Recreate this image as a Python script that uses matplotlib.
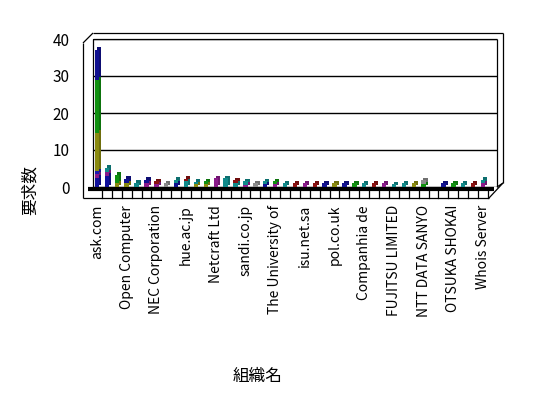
import matplotlib
matplotlib.use("Agg")
import matplotlib.pyplot as plt
import matplotlib.transforms as mtransforms
from matplotlib.colors import to_rgb

plt.rcParams['font.family'] = ['Noto Sans CJK JP', 'DejaVu Sans']

# ---- data -------------------------------------------------------------
n_categories = 40
tick_positions = [0, 3, 6, 9, 12, 15, 18, 21, 24, 27, 30, 33, 36, 39]
tick_labels = ["ask.com", "Open Computer", "NEC Corporation", "hue.ac.jp",
               "Netcraft Ltd", "sandi.co.jp", "The University of", "isu.net.sa",
               "pol.co.uk", "Companhia de", "FUJITSU LIMITED", "NTT DATA SANYO",
               "OTSUKA SHOKAI", "Whois Server"]
y_ticks = [0, 10, 20, 30, 40]

s_navy_a = [2.5, 3.0, 0, 0, 0, 0, 0, 0, 0, 0,
            0, 0, 0, 0, 0, 0, 0, 0, 0, 0,
            0, 0, 0, 0, 0, 0, 0, 0, 0, 0,
            0, 0, 0, 0, 0, 0, 0, 0, 0, 0]
s_purple = [1.0, 1.0, 0, 0, 0, 1.0, 0.8, 0, 0, 0,
            0, 0, 2.3, 0, 0, 0.6, 0, 0, 0.8, 0,
            0, 1.0, 0, 0, 0, 0, 0, 0, 0, 1.0,
            0, 0, 0, 0, 0, 0, 0, 0, 0, 1.0]
s_blue = [0.8, 0, 0, 0, 0, 0, 0, 0, 0, 0,
          0, 0, 0, 0, 0, 0, 0, 0, 0, 0,
          0, 0, 0, 0, 0, 0, 0, 0, 0, 0,
          0, 0, 0, 0, 0, 0, 0, 0, 0, 0]
s_olive = [10.4, 0, 1.0, 1.0, 0, 0, 0, 0, 0, 0,
           0.8, 0.8, 0, 0, 0, 0, 0, 0, 0, 0,
           0, 0, 0, 0, 1.0, 0, 0, 0, 0, 0,
           0, 0, 1.0, 0, 0, 0, 0, 0, 0, 0]
s_green = [14.3, 0, 2.3, 0, 0, 0, 0, 0, 0, 0,
           0, 0.8, 0, 0, 0, 0, 0, 0, 0.8, 0,
           0, 0, 0, 0, 0, 0, 1.0, 0, 0, 0,
           0, 0, 0, 0.8, 0, 0, 1.0, 0, 0, 0]
s_navy_b = [8.1, 0, 0, 1.2, 0, 1.0, 0, 0, 1.0, 0,
            0, 0, 0, 0, 0, 0, 0, 0.8, 0, 0,
            0, 0, 0, 1.0, 0, 1.0, 0, 0, 0, 0,
            0, 0, 0, 0, 0, 1.0, 0, 0, 0, 0]
s_teal = [0, 1.2, 0, 0, 1.2, 0, 0, 0, 1.0, 1.6,
          0.6, 0, 0, 2.3, 1.0, 0.9, 0, 0.8, 0, 1.0,
          0, 0, 0, 0, 0, 0, 0, 1.0, 0, 0,
          0.8, 1.0, 0, 0, 0, 0, 0, 1.0, 0, 1.0]
s_maroon = [0, 0, 0, 0, 0, 0, 0.8, 0, 0, 0.6,
            0, 0, 0, 0, 0.8, 0, 0, 0, 0, 0,
            1.0, 0, 1.0, 0, 0, 0, 0, 0, 1.0, 0,
            0, 0, 0, 0, 0, 0, 0, 0, 1.0, 0]
s_grey = [0, 0, 0, 0, 0, 0, 0, 1.0, 0, 0,
          0, 0, 0, 0, 0, 0, 1.0, 0, 0, 0,
          0, 0, 0, 0, 0, 0, 0, 0, 0, 0,
          0, 0, 0, 1.0, 0, 0, 0, 0, 0, 0]

series = [s_navy_a, s_purple, s_blue, s_olive, s_green,
          s_navy_b, s_teal, s_maroon, s_grey]
colors = ['#10109a', '#8a1a8a', '#1a1ab0', '#8a8a10', '#109010',
          '#10108f', '#108a8a', '#8a1010', '#8c8c8c']

# ---- figure -----------------------------------------------------------
W, H, DPI = 548, 398, 100
fig = plt.figure(figsize=(W / DPI, H / DPI), dpi=DPI, facecolor='white')

frame = fig.add_axes([0, 0, 1, 1], zorder=0)
frame.set_xlim(0, W)
frame.set_ylim(H, 0)
frame.axis('off')


def px_rect(x0, y0, x1, y1):
    return [x0 / W, 1 - y1 / H, (x1 - x0) / W, (y1 - y0) / H]


ax = fig.add_axes(px_rect(93, 39, 497, 187), zorder=1)
ax.patch.set_alpha(0)
ax.set_xlim(-0.40, 40.41)
ax.set_ylim(0, 40)
for s in ax.spines.values():
    s.set_visible(False)

ax.set_yticks(y_ticks)
ax.set_yticklabels([str(v) for v in y_ticks], fontsize=11)
ax.yaxis.grid(True, color='black', lw=1.0)
ax.set_axisbelow(True)
ax.tick_params(axis='y', length=0, pad=17)

ax.set_xticks(tick_positions)
ax.set_xticklabels(tick_labels, rotation=90, fontsize=10, va='top', ha='center')
ax.tick_params(axis='x', length=0, pad=13)

# ---- 3D box -----------------------------------------------------------
lw = 0.9
segs = [
    [(93, 39), (497, 39)], [(497, 39), (497, 187)], [(93, 39), (93, 187)],
    [(93, 33), (503, 33)], [(503, 33), (503, 183)], [(503, 183), (489, 198)],
    [(83, 43), (93, 33)], [(83, 43), (83, 198)], [(83, 198), (489, 198)],
    [(497, 187), (503, 183)],
]
for (xa, ya), (xb, yb) in segs:
    frame.plot([xa, xb], [ya, yb], color='black', lw=lw, solid_capstyle='butt')
# floor
frame.plot([88, 494], [188.5, 188.5], color='black', lw=3.0, solid_capstyle='butt')

# category separators along the front of the floor
blend = mtransforms.blended_transform_factory(ax.transData, frame.transData)
for k in range(n_categories):
    frame.plot([k + 0.5, k + 0.5], [189, 198], color='black', lw=lw,
               transform=blend)

# ---- bars ------------------------------------------------------------
x = list(range(n_categories))
width = 0.45
side = mtransforms.ScaledTranslation(0.02, 0.025, fig.dpi_scale_trans)

bottom = [0.0] * n_categories
for vals, col in zip(series, colors):
    dark = tuple(c * 0.8 for c in to_rgb(col))
    ax.bar(x, vals, width=width, bottom=bottom, color=dark, lw=0,
           transform=ax.transData + side, zorder=2)
    bottom = [b + v for b, v in zip(bottom, vals)]

bottom = [0.0] * n_categories
for vals, col in zip(series, colors):
    ax.bar(x, vals, width=width, bottom=bottom, color=col, lw=0, zorder=3)
    bottom = [b + v for b, v in zip(bottom, vals)]

# ---- titles -----------------------------------------------------------
fig.text(30 / W, 1 - 190 / H, "要求数", rotation=90, fontsize=12,
         ha='center', va='center')
fig.text(258 / W, 1 - 376 / H, "組織名", fontsize=12, ha='center', va='center')

fig.savefig("out.png", dpi=DPI, facecolor='white')
